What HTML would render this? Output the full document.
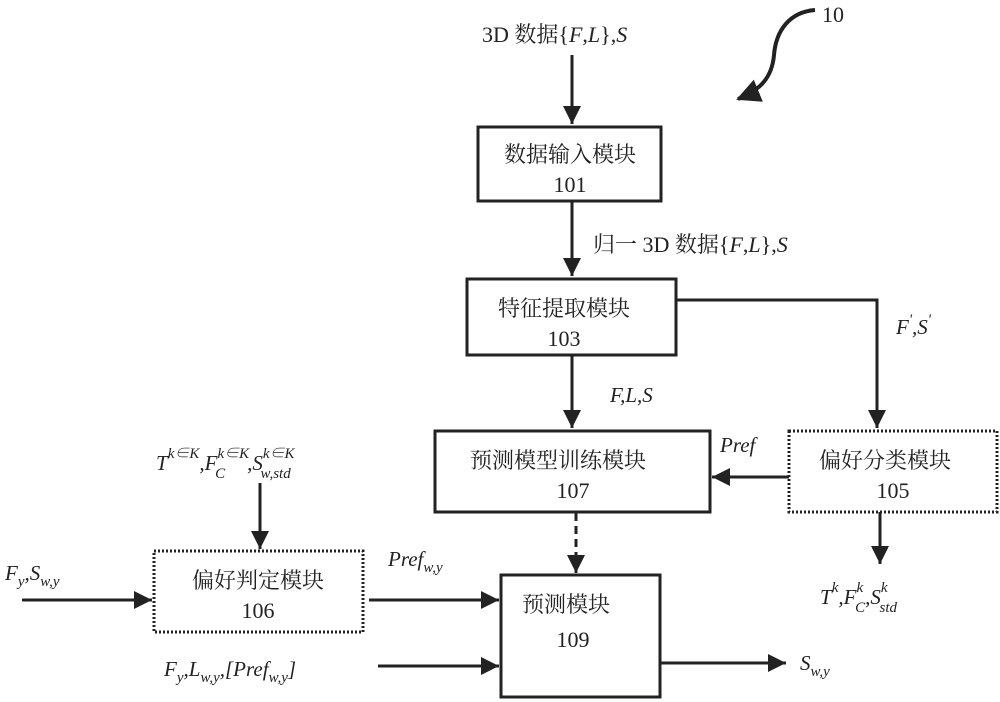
<!DOCTYPE html>
<html><head><meta charset="utf-8"><style>
html,body{margin:0;padding:0;background:#fff;}
svg{display:block;}
text{font-family:"Liberation Serif","Noto Serif CJK SC","Noto Sans CJK SC",serif;fill:#222;}
.cn{font-size:22px;}
.num{font-size:22px;}
.it{font-style:italic;font-size:21px;}
.sub{font-style:italic;font-size:15px;}
</style></head><body>
<svg width="1000" height="702" viewBox="0 0 1000 702" xmlns="http://www.w3.org/2000/svg">
<defs>
<marker id="ah2" markerWidth="20" markerHeight="20" refX="18" refY="9" orient="auto" markerUnits="userSpaceOnUse">
<path d="M0,0 L18,9 L0,18 Z" fill="#222"/>
</marker>
<marker id="ah3" markerWidth="26" markerHeight="26" refX="22" refY="12" orient="auto" markerUnits="userSpaceOnUse">
<path d="M0,0 L24,12 L0,24 Z" fill="#222"/>
</marker>
</defs>
<g stroke="#222" stroke-width="3" fill="none">
<rect x="478" y="127" width="183" height="74"/>
<rect x="467" y="279" width="209" height="76"/>
<rect x="435" y="431" width="275" height="81"/>
<rect x="501" y="575" width="159" height="122"/>
</g>
<g stroke="#222" stroke-width="3" fill="none" stroke-dasharray="2,2">
<rect x="789" y="431" width="208" height="81"/>
<rect x="154" y="551" width="209" height="81"/>
</g>
<g stroke="#222" stroke-width="3" fill="none">
<line x1="572" y1="55" x2="572" y2="124" marker-end="url(#ah2)"/>
<line x1="572" y1="201" x2="572" y2="276" marker-end="url(#ah2)"/>
<line x1="572" y1="355" x2="572" y2="428" marker-end="url(#ah2)"/>
<polyline points="676,300 877,300 877,428" marker-end="url(#ah2)"/>
<line x1="789" y1="477" x2="712" y2="477" marker-end="url(#ah2)"/>
<line x1="880" y1="512" x2="880" y2="564" marker-end="url(#ah2)"/>
<line x1="260" y1="483" x2="260" y2="549" marker-end="url(#ah2)"/>
<line x1="22" y1="600" x2="152" y2="600" marker-end="url(#ah2)"/>
<line x1="369" y1="600" x2="499" y2="600" marker-end="url(#ah2)"/>
<line x1="378" y1="666" x2="499" y2="666" marker-end="url(#ah2)"/>
<line x1="660" y1="663" x2="786" y2="663" marker-end="url(#ah2)"/>
<line x1="576" y1="513" x2="576" y2="573" stroke-dasharray="8,5" marker-end="url(#ah2)"/>
<path d="M815,10 C790,12 776,30 774,55 C772,78 760,90 738,99" stroke-width="4" marker-end="url(#ah3)"/>
</g>
<text x="822" y="22" class="num">10</text>
<text x="482" y="42" class="cn">3D 数据{<tspan font-style="italic">F</tspan>,<tspan font-style="italic">L</tspan>},<tspan font-style="italic">S</tspan></text>
<text x="570" y="162" class="cn" text-anchor="middle">数据输入模块</text>
<text x="570" y="192" class="num" text-anchor="middle">101</text>
<text x="593" y="252" class="cn">归一 3D 数据{<tspan font-style="italic">F</tspan>,<tspan font-style="italic">L</tspan>},<tspan font-style="italic">S</tspan></text>
<text x="564" y="316" class="cn" text-anchor="middle">特征提取模块</text>
<text x="564" y="346" class="num" text-anchor="middle">103</text>
<text x="896" y="334" class="it">F<tspan class="sub" dy="-10">'</tspan><tspan dy="10">,S</tspan><tspan class="sub" dy="-10">'</tspan></text>
<text x="610" y="402" class="it">F,L,S</text>
<text x="558" y="468" class="cn" text-anchor="middle">预测模型训练模块</text>
<text x="573" y="498" class="num" text-anchor="middle">107</text>
<text x="720" y="452" class="it">Pref</text>
<text x="885" y="468" class="cn" text-anchor="middle">偏好分类模块</text>
<text x="893" y="498" class="num" text-anchor="middle">105</text>
<text x="820" y="604" class="it" font-size="23">T<tspan class="sub" dy="-12">k</tspan><tspan dy="12">,F</tspan><tspan class="sub" dy="-12">k</tspan><tspan class="sub" dx="-8" dy="20">C</tspan><tspan dy="-8">,S</tspan><tspan class="sub" dy="-12">k</tspan><tspan class="sub" dx="-8" dy="20">std</tspan></text>
<text x="156" y="470" class="it" font-size="24">T<tspan class="sub" font-size="17" dy="-12">k∈K</tspan><tspan dy="12">,F</tspan><tspan class="sub" font-size="17" dy="-12">k∈K</tspan><tspan class="sub" font-size="17" dx="-34" dy="20">C</tspan><tspan dx="22" dy="-8">,S</tspan><tspan class="sub" font-size="17" dy="-12">k∈K</tspan><tspan class="sub" font-size="17" dx="-34" dy="20">w,std</tspan></text>
<text x="5" y="580" class="it" font-size="23">F<tspan class="sub" font-size="17" dy="6">y</tspan><tspan dy="-6">,S</tspan><tspan class="sub" font-size="17" dy="6">w,y</tspan></text>
<text x="258" y="588" class="cn" text-anchor="middle">偏好判定模块</text>
<text x="258" y="618" class="num" text-anchor="middle">106</text>
<text x="388" y="566" class="it" font-size="23">Pref<tspan class="sub" font-size="17" dy="6">w,y</tspan></text>
<text x="566" y="612" class="cn" text-anchor="middle">预测模块</text>
<text x="573" y="647" class="num" text-anchor="middle">109</text>
<text x="164" y="676" class="it" font-size="23">F<tspan class="sub" font-size="17" dy="6">y</tspan><tspan dy="-6">,L</tspan><tspan class="sub" font-size="17" dy="6">w,y</tspan><tspan dy="-6">,[Pref</tspan><tspan class="sub" font-size="17" dy="6">w,y</tspan><tspan dy="-6">]</tspan></text>
<text x="800" y="670" class="it" font-size="23">S<tspan class="sub" font-size="17" dy="6">w,y</tspan></text>
</svg>
</body></html>
